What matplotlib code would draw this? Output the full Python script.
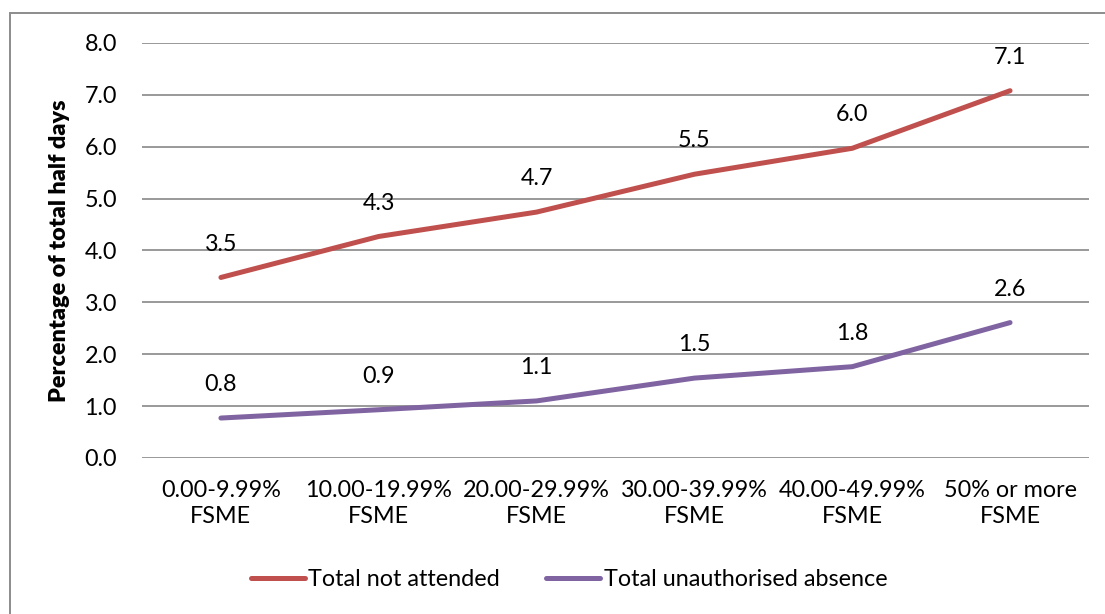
import matplotlib
matplotlib.use("Agg")
import matplotlib.pyplot as plt
from matplotlib.lines import Line2D
from matplotlib.patches import Rectangle

plt.rcParams['font.family'] = ['Lato', 'DejaVu Sans']

categories = ["0.00-9.99%\nFSME", "10.00-19.99%\nFSME", "20.00-29.99%\nFSME",
              "30.00-39.99%\nFSME", "40.00-49.99%\nFSME", "50% or more\nFSME"]
not_attended = [3.48, 4.27, 4.74, 5.47, 5.97, 7.08]
unauthorised = [0.77, 0.93, 1.10, 1.54, 1.76, 2.61]
series_names = ["Total not attended", "Total unauthorised absence"]
yticks = [0.0, 1.0, 2.0, 3.0, 4.0, 5.0, 6.0, 7.0, 8.0]

RED = "#C0504D"
PURPLE = "#8064A2"
GRID = "#878787"
FS = 16.8

fig = plt.figure(figsize=(11.05, 6.14), dpi=100)
ax = fig.add_axes([0.1285, 0.2541, 0.8570, 0.6759])

x = list(range(len(categories)))
for vals, col in ((not_attended, RED), (unauthorised, PURPLE)):
    ax.plot(x, vals, color=col, lw=3.6, solid_capstyle='round', zorder=3)
    for xi, v in zip(x, vals):
        ax.annotate(f"{v:.1f}", (xi, v), xytext=(0, 24), textcoords='offset points',
                    ha='center', va='center', fontsize=FS, color='black')

ax.set_xlim(-0.5, len(categories) - 0.5)
ax.set_ylim(0, 8)
ax.set_yticks(yticks)
ax.set_yticklabels([f"{t:.1f}" for t in yticks], fontsize=FS)
ax.set_xticks(x)
ax.set_xticklabels(categories, fontsize=FS, linespacing=1.3)
ax.tick_params(axis='both', length=0)
ax.tick_params(axis='y', pad=18)
ax.tick_params(axis='x', pad=16)
ax.grid(axis='y', color=GRID, lw=1.2)
ax.set_axisbelow(True)
for s in ax.spines.values():
    s.set_visible(False)

ax.set_ylabel("Percentage of total half days", fontsize=FS, fontweight='heavy', labelpad=10)

handles = [Line2D([], [], color=RED, lw=3.6, solid_capstyle='round'),
           Line2D([], [], color=PURPLE, lw=3.6, solid_capstyle='round')]
fig.legend(handles, series_names, loc='center', bbox_to_anchor=(0.515, 1 - 580 / 614),
           ncol=2, frameon=False, fontsize=FS, handlelength=2.3, handletextpad=0.15,
           columnspacing=2.0)

fig.patches.append(Rectangle((10 / 1105, -0.05), 1.2, 1 - 13 / 614 + 0.05,
                             transform=fig.transFigure, fill=False,
                             edgecolor="#8C8C8C", lw=1.4))

fig.savefig("out.png", dpi=100)
